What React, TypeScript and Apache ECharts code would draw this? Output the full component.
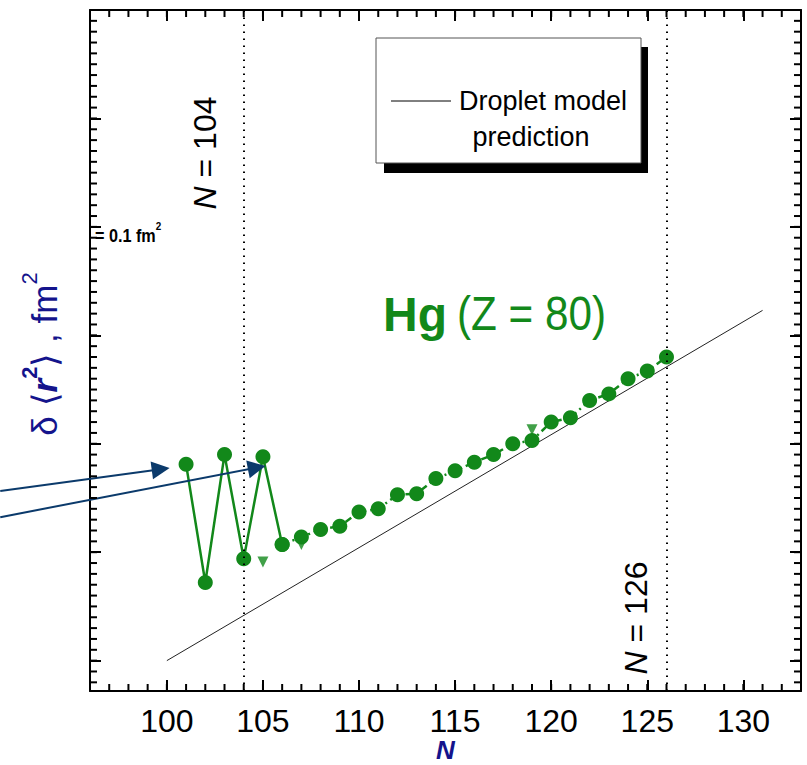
import React, { useEffect, useRef } from "react";
import * as echarts from "echarts";

// ---- data ----
const zigzagN = [101, 102, 103, 104, 105, 106];
const zigzagR2 = [0.181, 0.072, 0.19, 0.094, 0.188, 0.107];

const chainN = [106, 107, 108, 109, 110, 111, 112, 113, 114, 115, 116, 117, 118, 119, 120, 121, 122, 123, 124, 125, 126];
const chainR2 = [0.107, 0.114, 0.121, 0.124, 0.137, 0.14, 0.153, 0.154, 0.168, 0.175, 0.183, 0.19, 0.2, 0.203, 0.22, 0.224, 0.24, 0.246, 0.26, 0.267, 0.28];

const isomerN = [105, 107, 119];
const isomerR2 = [0.091, 0.107, 0.213];

const dropletN = [100, 131];
const dropletR2 = [0.0, 0.323];

const shellN = [104, 126];

// annotation arrows: [startN, startR2, endN, endR2]
const arrows = [
  [91.33, 0.1565, 99.68, 0.1765],
  [91.33, 0.1323, 104.68, 0.178],
];

const xMajor = [100, 105, 110, 115, 120, 125, 130];
const yMajor = [0, 0.1, 0.2, 0.3, 0.4, 0.5, 0.6];
const X_MIN = 96;
const X_MAX = 133;
const Y_MIN = -0.028;
const Y_MAX = 0.6;

// minor tick positions (every 1 in N, every 0.01 in δ<r²>)
const xMinor: number[] = [];
for (let n = 97; n <= 132; n++) xMinor.push(n);
const yMinor: number[] = [];
for (let k = -2; k <= 59; k++) yMinor.push(k / 100);

const GREEN = "#12881a";
const NAVY = "#14148c";
const ARROW = "#0b3a6b";
const SANS = "'Liberation Sans', Arial, sans-serif";

const W = 807;
const H = 765;
const G = { left: 90, right: 6, top: 10, bottom: 74 };

function axis(kind: "x" | "y", position: string, labels: boolean, extra: any = {}) {
  const vals = kind === "x" ? xMajor : yMajor;
  return {
    type: "value",
    position,
    min: kind === "x" ? X_MIN : Y_MIN,
    max: kind === "x" ? X_MAX : Y_MAX,
    axisLine: { show: true, onZero: false, lineStyle: { color: "#000", width: 2 } },
    axisTick: {
      show: true,
      inside: true,
      length: 11,
      customValues: vals,
      lineStyle: { color: "#000", width: 2 },
    },
    axisLabel: labels
      ? {
          show: true,
          customValues: vals,
          color: "#000",
          fontFamily: SANS,
          fontSize: 32,
          margin: 14,
        }
      : { show: false },
    splitLine: { show: false },
    ...extra,
  };
}

const staticGraphics: any[] = [
  // legend box with shadow
  { type: "rect", shape: { x: 384, y: 47, width: 264, height: 126 }, style: { fill: "#000" }, z: 10 },
  { type: "rect", shape: { x: 376, y: 38, width: 265, height: 125 }, style: { fill: "#fff", stroke: "#555", lineWidth: 1 }, z: 11 },
  { type: "line", shape: { x1: 391, y1: 101, x2: 451, y2: 101 }, style: { stroke: "#000", lineWidth: 1 }, z: 12 },
  {
    type: "text",
    x: 543,
    y: 101,
    z: 12,
    style: { text: "Droplet model", fill: "#000", font: `27px ${SANS}`, textAlign: "center", textVerticalAlign: "middle" },
  },
  {
    type: "text",
    x: 531,
    y: 137,
    z: 12,
    style: { text: "prediction", fill: "#000", font: `27px ${SANS}`, textAlign: "center", textVerticalAlign: "middle" },
  },
  // Hg (Z = 80)
  {
    type: "text",
    x: 383,
    y: 314,
    z: 12,
    style: { text: "Hg", fill: GREEN, font: `bold 48px ${SANS}`, textAlign: "left", textVerticalAlign: "middle" },
  },
  {
    type: "text",
    x: 457,
    y: 314,
    scaleX: 0.88,
    z: 12,
    style: { text: "(Z = 80)", fill: GREEN, font: `48px ${SANS}`, textAlign: "left", textVerticalAlign: "middle" },
  },
  // N = 104
  {
    type: "text",
    x: 205,
    y: 153,
    rotation: Math.PI / 2,
    z: 12,
    style: {
      text: "{i|N}{r| = 104}",
      textAlign: "center",
      textVerticalAlign: "middle",
      rich: {
        i: { fill: "#000", font: `italic 32px ${SANS}` },
        r: { fill: "#000", font: `32px ${SANS}` },
      },
      font: `32px ${SANS}`,
    },
  },
  // N = 126
  {
    type: "text",
    x: 636,
    y: 618,
    rotation: Math.PI / 2,
    z: 12,
    style: {
      text: "{i|N}{r| = 126}",
      textAlign: "center",
      textVerticalAlign: "middle",
      rich: {
        i: { fill: "#000", font: `italic 32px ${SANS}` },
        r: { fill: "#000", font: `32px ${SANS}` },
      },
      font: `32px ${SANS}`,
    },
  },
  // = 0.1 fm2
  {
    type: "text",
    x: 95,
    y: 233,
    scaleX: 0.9,
    z: 12,
    style: {
      text: "{m|= 0.1 fm}{s|2}",
      textAlign: "left",
      textVerticalAlign: "middle",
      rich: {
        m: { fill: "#000", font: `bold 18px ${SANS}`, lineHeight: 24, verticalAlign: "bottom" },
        s: { fill: "#000", font: `bold 11px ${SANS}`, lineHeight: 24, verticalAlign: "top" },
      },
      font: `bold 18px ${SANS}`,
    },
  },
  // y-axis title
  {
    type: "text",
    x: 40,
    y: 354,
    rotation: Math.PI / 2,
    z: 12,
    style: {
      text: "{m|δ ⟨}{b|r}{s|2}{m|⟩ , fm}{t|2}",
      textAlign: "center",
      textVerticalAlign: "middle",
      rich: {
        m: { fill: NAVY, font: `35px ${SANS}`, lineHeight: 44, verticalAlign: "bottom" },
        b: { fill: NAVY, font: `bold italic 35px ${SANS}`, lineHeight: 44, verticalAlign: "bottom" },
        s: { fill: NAVY, font: `bold 22px ${SANS}`, lineHeight: 44, verticalAlign: "top" },
        t: { fill: NAVY, font: `22px ${SANS}`, lineHeight: 44, verticalAlign: "top" },
      },
      font: `35px ${SANS}`,
    },
  },
];

export default function App() {
  const ref = useRef<HTMLDivElement>(null);

  useEffect(() => {
    document.body.style.margin = "0";
    if (!ref.current) return;
    const chart = echarts.init(ref.current, null, { renderer: "svg" });

    const option: any = {
      animation: false,
      backgroundColor: "#fff",
      grid: { ...G, containLabel: false, outerBoundsMode: "none" },
      xAxis: [
        axis("x", "bottom", true, {
          name: "N",
          nameLocation: "middle",
          nameGap: 46,
          nameMoveOverlap: false,
          nameTextStyle: { color: NAVY, fontFamily: SANS, fontSize: 26, lineHeight: 26, fontWeight: "bold", fontStyle: "italic" },
        }),
        axis("x", "top", false),
      ],
      yAxis: [axis("y", "left", false), axis("y", "right", false)],
      series: [
        {
          name: "Droplet model prediction",
          type: "line",
          data: dropletN.map((n, i) => [n, dropletR2[i]]),
          showSymbol: false,
          symbol: "none",
          lineStyle: { color: "#222", width: 1 },
          z: 2,
          markLine: {
            silent: true,
            symbol: ["none", "none"],
            label: { show: false },
            lineStyle: { color: "#000", width: 2, type: [1.5, 5.5] },
            data: shellN.map((n) => ({ xAxis: n })),
          },
        },
        {
          name: "Hg odd-even",
          type: "line",
          data: zigzagN.map((n, i) => [n, zigzagR2[i]]),
          symbol: "circle",
          symbolSize: 15,
          itemStyle: { color: GREEN },
          lineStyle: { color: GREEN, width: 2.5 },
          z: 4,
        },
        {
          name: "Hg",
          type: "line",
          data: chainN.map((n, i) => [n, chainR2[i]]),
          symbol: "circle",
          symbolSize: 15,
          itemStyle: { color: GREEN },
          lineStyle: { color: GREEN, width: 2.5, type: [7, 4, 2, 4] },
          z: 4,
        },
        {
          name: "Hg isomers",
          type: "scatter",
          data: isomerN.map((n, i) => [n, isomerR2[i]]),
          symbol: "triangle",
          symbolRotate: 180,
          symbolSize: 11,
          itemStyle: { color: GREEN },
          z: 3,
        },
        {
          name: "arrows",
          type: "lines",
          coordinateSystem: "cartesian2d",
          clip: false,
          polyline: false,
          symbol: ["none", "triangle"],
          symbolSize: [13, 18],
          lineStyle: { color: ARROW, width: 2, opacity: 1, curveness: 0 },
          itemStyle: { color: ARROW },
          data: arrows.map((a) => ({ coords: [[a[0], a[1]], [a[2], a[3]]] })),
          z: 5,
        },
      ],
      graphic: staticGraphics,
    };

    chart.setOption(option);

    // minor ticks, positioned through the chart's own axis scales
    const MINOR_LEN = 7;
    const tickGraphics: any[] = [];
    const st = { stroke: "#000", lineWidth: 2 };
    xMinor.forEach((v) => {
      const b = chart.convertToPixel({ gridIndex: 0 }, [v, Y_MIN]) as number[];
      const t = chart.convertToPixel({ gridIndex: 0 }, [v, Y_MAX]) as number[];
      if (b && t) {
        tickGraphics.push({ type: "line", silent: true, z: 9, shape: { x1: b[0], y1: b[1], x2: b[0], y2: b[1] - MINOR_LEN }, style: st });
        tickGraphics.push({ type: "line", silent: true, z: 9, shape: { x1: t[0], y1: t[1], x2: t[0], y2: t[1] + MINOR_LEN }, style: st });
      }
    });
    yMinor.forEach((v) => {
      const l = chart.convertToPixel({ gridIndex: 0 }, [X_MIN, v]) as number[];
      const r = chart.convertToPixel({ gridIndex: 0 }, [X_MAX, v]) as number[];
      if (l && r) {
        tickGraphics.push({ type: "line", silent: true, z: 9, shape: { x1: l[0], y1: l[1], x2: l[0] + MINOR_LEN, y2: l[1] }, style: st });
        tickGraphics.push({ type: "line", silent: true, z: 9, shape: { x1: r[0], y1: r[1], x2: r[0] - MINOR_LEN, y2: r[1] }, style: st });
      }
    });
    chart.setOption({ graphic: [...staticGraphics, ...tickGraphics] });

    return () => chart.dispose();
  }, []);

  return <div ref={ref} style={{ position: "absolute", left: 0, top: 0, width: W, height: H }} />;
}
